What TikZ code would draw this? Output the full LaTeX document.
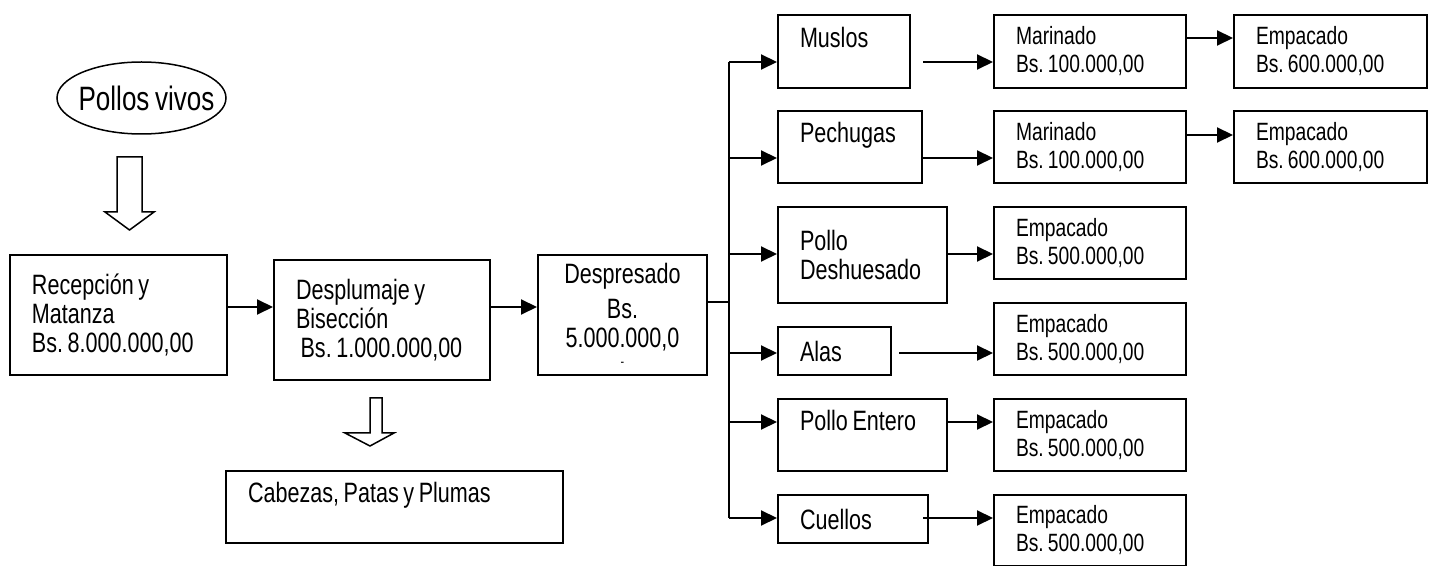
\documentclass[tikz,border=0pt]{standalone}
\usepackage{fontspec}
\setmainfont{Liberation Sans}[FakeStretch=0.77, WordSpace=0.77]
\frenchspacing
\usetikzlibrary{shapes.geometric,arrows.meta}

\newcommand{\bigtxt}{\fontsize{14}{14.5}\selectfont}
\newcommand{\smalltxt}{\fontsize{12.5}{14}\selectfont}

\begin{document}
\begin{tikzpicture}[x=0.5pt, y=-0.5pt,
  proc/.style={draw, line width=1pt, anchor=north west, align=flush left,
    inner xsep=11pt, inner ysep=0pt, font=\bigtxt},
  cost/.style={proc, font=\smalltxt, text width=74pt, minimum height=36pt},
  arr/.style={line width=1pt, -{Triangle[length=8pt,width=7.5pt]}},
  hollow/.style={draw, line width=0.75pt, line join=miter}]
\useasboundingbox (0,0) rectangle (1429,566);

% Entrada
\node[draw, ellipse, line width=0.75pt, minimum width=84.5pt, minimum height=36pt,
  inner sep=0pt, font=\fontsize{16.9}{18}\selectfont] (pollos) at (141.5,98)
  {\makebox[0pt]{\hspace{5pt}Pollos vivos}};
\draw[hollow] (117,157) -- (142,157) -- (142,212) -- (154,212) -- (129.5,230)
  -- (105,212) -- (117,212) -- cycle;

% Proceso principal
\node[proc, text width=86.5pt, minimum height=60pt] (rec) at (9,254)
  {Recepción y\\Matanza\\Bs. 8.000.000,00};
\node[proc, text width=86pt, minimum height=60pt] (despl) at (273,259)
  {Desplumaje y\\Bisección\\~Bs. 1.000.000,00};
\node[proc, align=flush center, text width=62.5pt, minimum height=60pt] (despr) at (537,254)
  {Despresado\\[3pt]Bs.\\5.000.000,0\\[-5pt]\fontsize{7}{14.5}\selectfont -};
\draw[arr] (rec.east |- 0,307) -- (despl.west |- 0,307);
\draw[arr] (despl.east |- 0,307) -- (despr.west |- 0,307);

% Desechos
\draw[hollow] (370,398) -- (382,398) -- (382,433) -- (394,433) -- (370,446)
  -- (345,433) -- (370,433) -- cycle;
\node[proc, text width=146.5pt, minimum height=36pt] (desechos) at (225,470)
  {Cabezas, Patas y Plumas\\~};

% Piezas
\node[proc, text width=44pt, minimum height=36.5pt] (muslos) at (777,14) {Muslos\\~};
\node[proc, text width=50pt, minimum height=36pt] (pechugas) at (777,110) {Pechugas\\~};
\node[proc, text width=62.5pt, minimum height=48pt] (deshuesado) at (777,206) {Pollo\\Deshuesado};
\node[proc, text width=34.5pt, minimum height=24pt] (alas) at (777,326) {Alas};
\node[proc, text width=62.5pt, minimum height=36pt] (entero) at (777,398) {Pollo Entero\\~};
\node[proc, text width=53pt, minimum height=24pt] (cuellos) at (777,494) {Cuellos};

% Marinado y empacado
\node[cost, minimum height=36.5pt] (mar1) at (993,14) {Marinado\\Bs. 100.000,00};
\node[cost] (mar2) at (993,110) {Marinado\\Bs. 100.000,00};
\node[cost, minimum height=36.5pt, text width=74.5pt] (emp1) at (1233,14) {Empacado\\Bs. 600.000,00};
\node[cost, text width=74.5pt] (emp2) at (1233,110) {Empacado\\Bs. 600.000,00};
\node[cost] (emp3) at (993,206) {Empacado\\Bs. 500.000,00};
\node[cost] (emp4) at (993,302) {Empacado\\Bs. 500.000,00};
\node[cost] (emp5) at (993,398) {Empacado\\Bs. 500.000,00};
\node[cost, minimum height=35.5pt] (emp6) at (993,494) {Empacado\\Bs. 500.000,00};

% Reparto desde el despresado
\coordinate (trunk) at (729,62);
\coordinate (trunkend) at (729,518);
\draw[line width=1pt] (trunk) -- (trunkend);
\draw[line width=1pt] (despr.east |- 0,302) -- (trunk |- 0,302);
\foreach \n/\y in {muslos/62, pechugas/158, deshuesado/254, alas/353, entero/422, cuellos/518}
  \draw[arr] (trunk |- 0,\y) -- (\n.west |- 0,\y);

\draw[arr] ([xshift=6pt]muslos.east |- 0,62) -- (mar1.west |- 0,62);
\draw[arr] (pechugas.east |- 0,158) -- (mar2.west |- 0,158);
\draw[arr] (mar1.east |- 0,38) -- (emp1.west |- 0,38);
\draw[arr] (mar2.east |- 0,135) -- (emp2.west |- 0,135);
\draw[arr] (deshuesado.east |- 0,254) -- (emp3.west |- 0,254);
\draw[arr] ([xshift=3.5pt]alas.east |- 0,353) -- (emp4.west |- 0,353);
\draw[arr] (entero.east |- 0,422) -- (emp5.west |- 0,422);
\draw[arr] ([xshift=-3pt]cuellos.east |- 0,518) -- (emp6.west |- 0,518);
\end{tikzpicture}
\end{document}
